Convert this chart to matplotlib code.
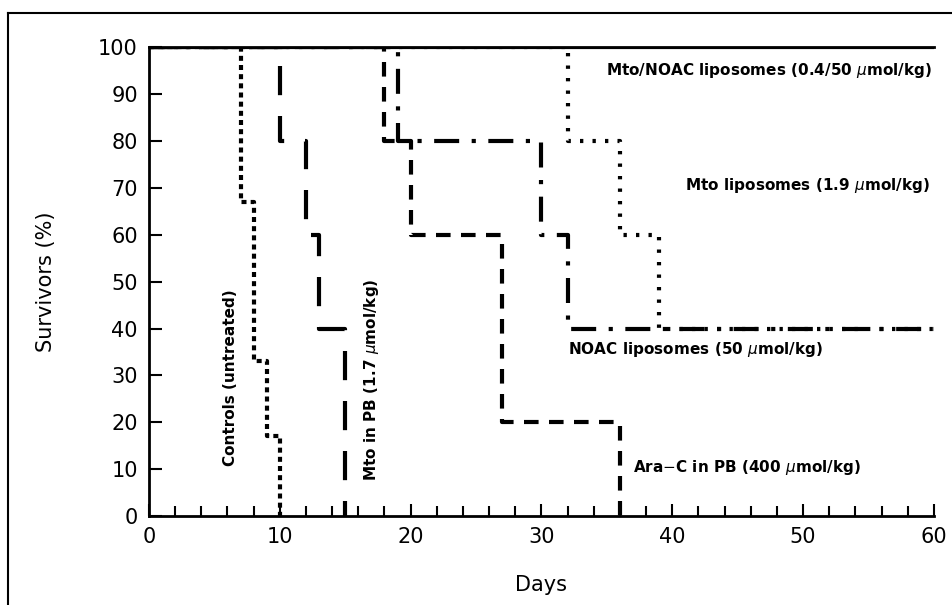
import numpy as np
import matplotlib.pyplot as plt
from matplotlib.lines import Line2D

# step data: days at which survival drops, survival (%) after each step
controls_days = [0, 7, 8, 9, 10]
controls_surv = [100, 67, 33, 17, 0]

mto_pb_days = [0, 10, 12, 13, 15]
mto_pb_surv = [100, 80, 60, 40, 0]

arac_days = [0, 18, 20, 27, 36]
arac_surv = [100, 80, 60, 20, 0]

noac_days = [0, 19, 30, 32, 60]
noac_surv = [100, 80, 60, 40, 40]

mto_lip_days = [0, 32, 36, 39, 60]
mto_lip_surv = [100, 80, 60, 40, 40]

mto_noac_days = [0, 60]
mto_noac_surv = [100, 100]

fig = plt.figure(figsize=(9.52, 6.05), dpi=100)
ax = fig.add_axes([0.1565, 0.147, 0.8245, 0.775])

lw = 3
ax.step(controls_days, controls_surv, where='post', color='black', lw=lw,
        dashes=(1.2, 1.0))
ax.step(mto_pb_days, mto_pb_surv, where='post', color='black', lw=lw,
        dashes=(7, 5))
ax.step(arac_days, arac_surv, where='post', color='black', lw=lw,
        dashes=(3.5, 2.5))
ax.step(noac_days, noac_surv, where='post', color='black', lw=lw,
        dashes=(6, 3, 1, 3))
ax.step(mto_lip_days, mto_lip_surv, where='post', color='black', lw=lw,
        dashes=(0.8, 2.2))
ax.plot(mto_noac_days, mto_noac_surv, color='black', lw=lw)

ax.set_xlim(0, 60)
ax.set_ylim(0, 100)
ax.set_xticks(np.arange(0, 61, 10))
ax.set_xticks(np.arange(0, 61, 2), minor=True)
ax.set_yticks(np.arange(0, 101, 10))
ax.tick_params(axis='both', which='major', direction='in', length=9, width=1.5,
               labelsize=15, pad=8)
ax.tick_params(axis='x', which='minor', direction='in', length=7, width=1.5)
ax.spines['right'].set_visible(False)
for s in ['left', 'bottom', 'top']:
    ax.spines[s].set_linewidth(2)

ax.set_xlabel('Days', fontsize=15, labelpad=20)
ax.set_ylabel('Survivors (%)', fontsize=15, labelpad=30)

tkw = dict(fontsize=11, fontweight='bold', color='black')
ax.text(59.9, 95, 'Mto/NOAC liposomes (0.4/50 $\\mu$mol/kg)', ha='right', va='center', **tkw)
ax.text(59.7, 70.5, 'Mto liposomes (1.9 $\\mu$mol/kg)', ha='right', va='center', **tkw)
ax.text(32.0, 35.5, 'NOAC liposomes (50 $\\mu$mol/kg)', ha='left', va='center', **tkw)
ax.text(37.0, 10.3, 'Ara$-$C in PB (400 $\\mu$mol/kg)', ha='left', va='center', **tkw)
ax.text(6.2, 29.5, 'Controls (untreated)', rotation=90, ha='center', va='center', **tkw)
ax.text(17.0, 29.0, 'Mto in PB (1.7 $\\mu$mol/kg)', rotation=90, ha='center', va='center', **tkw)

# outer frame of the figure panel
fig.add_artist(Line2D([8 / 952, 8 / 952], [0, 1 - 13 / 605], color='black', lw=1.5,
                      transform=fig.transFigure))
fig.add_artist(Line2D([8 / 952, 1], [1 - 13 / 605, 1 - 13 / 605], color='black', lw=1.5,
                      transform=fig.transFigure))

fig.savefig('out.png', dpi=100)
